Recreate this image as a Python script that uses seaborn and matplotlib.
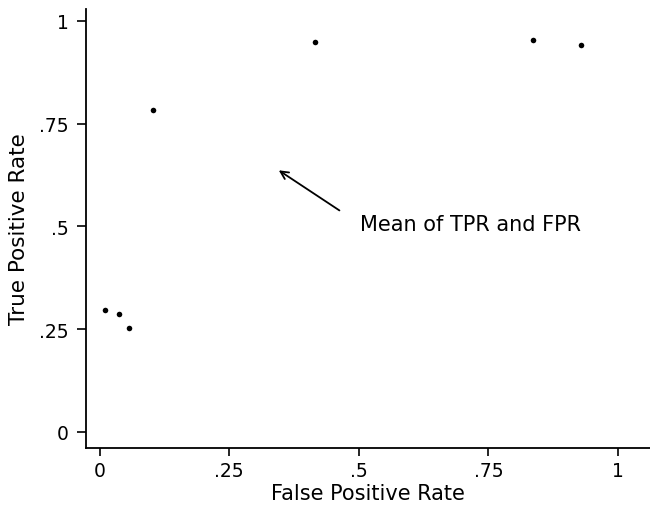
import matplotlib
matplotlib.use("Agg")
import matplotlib.pyplot as plt
import seaborn as sns
import pandas as pd

fpr = [0.010, 0.038, 0.056, 0.102, 0.416, 0.837, 0.929]
tpr = [0.297, 0.286, 0.254, 0.783, 0.949, 0.954, 0.942]
ticks = [0, 0.25, 0.5, 0.75, 1]
tick_labels = ["0", ".25", ".5", ".75", "1"]
note = "Mean of TPR and FPR"

df = pd.DataFrame({"False Positive Rate": fpr, "True Positive Rate": tpr})

sns.set_style("ticks")
plt.rcParams['font.family'] = ['DejaVu Sans']
plt.rcParams['text.color'] = 'black'
plt.rcParams['axes.labelcolor'] = 'black'

fig = plt.figure(figsize=(6.5, 5.06), dpi=100)
ax = fig.add_axes([0.132, 0.1126, 0.868, 0.868])

sns.scatterplot(data=df, x="False Positive Rate", y="True Positive Rate",
                ax=ax, color="black", s=16, linewidth=0, legend=False)

ax.set_xlim(-0.027, 1.062)
ax.set_ylim(-0.039, 1.029)
ax.set_xticks(ticks)
ax.set_xticklabels(tick_labels)
ax.set_yticks(ticks)
ax.set_yticklabels(tick_labels)
ax.tick_params(axis="x", direction="out", length=5.5, width=1.2, colors="black",
               labelsize=13.5, pad=4)
ax.tick_params(axis="y", direction="out", length=6.5, width=1.2, colors="black",
               labelsize=13.5, pad=6)
for s in ["top", "right"]:
    ax.spines[s].set_visible(False)
for s in ["left", "bottom"]:
    ax.spines[s].set_linewidth(1.3)
    ax.spines[s].set_color("black")
ax.set_xlabel("False Positive Rate", fontsize=15, labelpad=2)
ax.set_ylabel("True Positive Rate", fontsize=15.5, labelpad=7)

ax.annotate("", xy=(0.341, 0.640), xytext=(0.467, 0.535),
            arrowprops=dict(arrowstyle="->", color="black", lw=1.3,
                            mutation_scale=14))
ax.text(0.502, 0.506, note, fontsize=15, va="center", ha="left", color="black")

fig.savefig("out.png", dpi=100)
